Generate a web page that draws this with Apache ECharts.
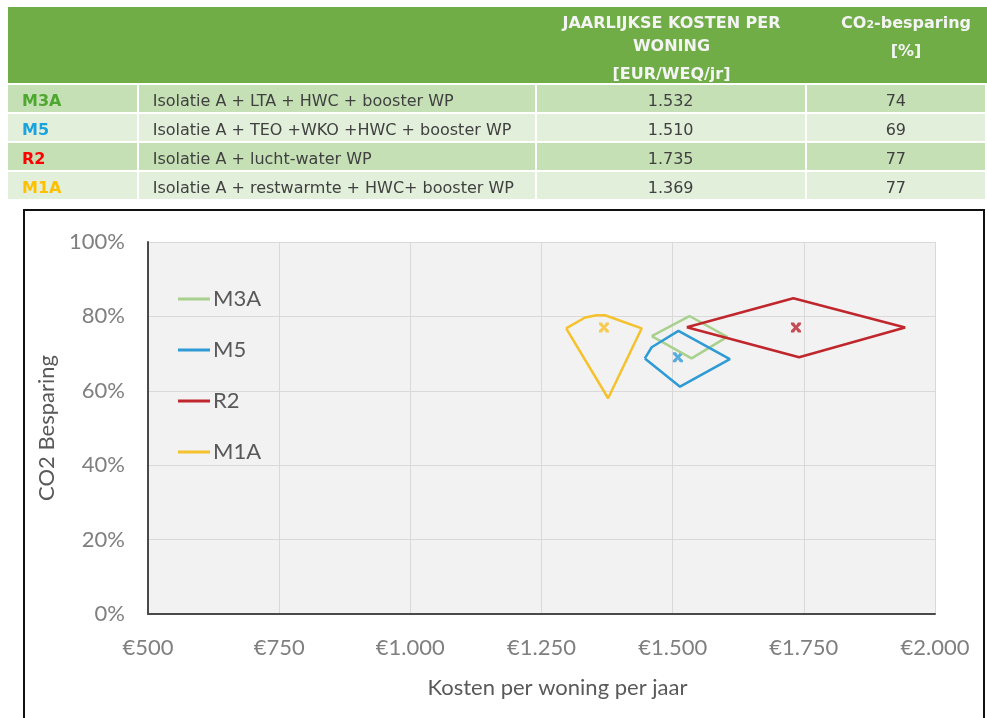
<!DOCTYPE html>
<html>
<head>
<meta charset="utf-8">
<script src="https://cdn.jsdelivr.net/npm/echarts@6/dist/echarts.min.js"></script>
<style>
body{margin:0;width:987px;height:718px;overflow:hidden;background:#fff;font-family:"DejaVu Sans",Verdana,sans-serif;}
#frame{position:absolute;left:23px;top:209px;width:958px;height:530px;border:2px solid #111;}
#chart{position:absolute;left:0;top:0;width:987px;height:718px;}
#head{position:absolute;left:8px;top:7px;width:979px;height:76px;background:#70ad47;color:#f4f4f4;font-weight:bold;font-size:16px;}
#head div{position:absolute;text-align:center;line-height:20px;white-space:nowrap;}
#tbl{position:absolute;left:6px;top:83px;border-spacing:2px;font-size:16px;color:#404040;}
#tbl td{height:27px;padding:0;padding-top:4px;box-sizing:border-box;white-space:nowrap;}
</style>
</head>
<body>
<div id="frame"></div>
<div id="chart"></div>
<div id="head">
	<div style="left:529px;width:269px;top:6px;">JAARLIJKSE KOSTEN PER</div>
	<div style="left:529px;width:269px;top:29px;">WONING</div>
	<div style="left:529px;width:269px;top:57px;">[EUR/WEQ/jr]</div>
	<div style="left:815px;width:166px;top:6px;">CO<span style="font-size:11px">2</span>-besparing</div>
	<div style="left:815px;width:166px;top:34px;">[%]</div>
</div>
<table id="tbl"></table>
<script>
	// tabel boven de grafiek
	var codes=['M3A','M5','R2','M1A'];
	var codeColors=['#4ea72e','#1aa3de','#ff0000','#ffc000'];
	var descriptions=['Isolatie A + LTA + HWC + booster WP','Isolatie A + TEO +WKO +HWC + booster WP','Isolatie A + lucht-water WP','Isolatie A + restwarmte + HWC+ booster WP'];
	var costLabels=['1.532','1.510','1.735','1.369'];
	var savingLabels=['74','69','77','77'];

	// grafiek data (polygonen + middelpunten)
	var names=['M3A','M5','R2','M1A'];
	var lineColors=['#a9d18e','#2e9bd6','#c0272d','#f5c12c'];
	var markerColors=['#a9d18e','#2e9bd6','#b8232b','#f5c12c'];
	var m3aCost=[1460,1532,1604,1536,1460];
	var m3aCo2=[74.7,80.1,74.5,68.7,74.7];
	var m5Cost=[1447,1460,1511,1609,1514,1447];
	var m5Co2=[68.7,71.7,76.1,68.5,61.1,68.7];
	var r2Cost=[1527,1730,1943,1741,1527];
	var r2Co2=[77.1,84.9,77.0,69.0,77.1];
	var m1aCost=[1297,1333,1355,1371,1441,1377,1297];
	var m1aCo2=[76.8,79.7,80.3,80.3,76.8,58.0,76.8];
	var centerCost=[1532,1510,1735,1369];
	var centerCo2=[74,69,77,77];
	// M3A middelpunt valt weg achter de M5 lijn
	var centerShown=[false,true,true,true];

	var polyCost=[m3aCost,m5Cost,r2Cost,m1aCost];
	var polyCo2=[m3aCo2,m5Co2,r2Co2,m1aCo2];

	var widths=[129,396,269,179];
	var html='';
	for(var i=0;i<codes.length;i++)
	{
		var bg=(i%2==0)?'#c5e0b4':'#e2efda';
		html+='<tr style="background:'+bg+'">';
		html+='<td style="width:'+widths[0]+'px;padding-left:14px;font-weight:bold;color:'+codeColors[i]+'">'+codes[i]+'</td>';
		html+='<td style="width:'+widths[1]+'px;padding-left:14px;">'+descriptions[i]+'</td>';
		html+='<td style="width:'+widths[2]+'px;text-align:center;">'+costLabels[i]+'</td>';
		html+='<td style="width:'+widths[3]+'px;text-align:center;">'+savingLabels[i]+'</td>';
		html+='</tr>';
	}
	document.getElementById('tbl').innerHTML=html;

	var crossPath='path://M0,0 L3,0 L5,3 L7,0 L10,0 L10,2 L7,5 L10,8 L10,10 L7,10 L5,7 L3,10 L0,10 L0,8 L3,5 L0,2 Z';

	var series=[];
	for(var s=0;s<names.length;s++)
	{
		var pts=[];
		for(var j=0;j<polyCost[s].length;j++)
		{
			pts.push([polyCost[s][j],polyCo2[s][j]]);
		}
		series.push({
			name:names[s],
			type:'line',
			data:pts,
			showSymbol:false,
			symbol:'none',
			color:lineColors[s],
			lineStyle:{color:lineColors[s],width:2.5},
			animation:false
		});
		if(centerShown[s])
		{
			series.push({
				name:names[s]+'-punt',
				type:'scatter',
				data:[[centerCost[s],centerCo2[s]]],
				symbol:crossPath,
				symbolSize:10,
				itemStyle:{color:markerColors[s]},
				animation:false
			});
		}
	}

	var myChart=echarts.init(document.getElementById('chart'));
	var option={
		textStyle:{fontFamily:'Lato'},
		grid:{
			left:148,
			top:242,
			right:52,
			bottom:104,
			show:true,
			backgroundColor:'#f2f2f2',
			borderWidth:0
		},
		legend:{
			data:names,
			orient:'vertical',
			left:178,
			top:288,
			padding:0,
			icon:'rect',
			itemWidth:32,
			itemHeight:3,
			itemGap:29,
			textStyle:{fontSize:22,color:'#595959',fontFamily:'Lato',lineHeight:22,padding:[0,0,0,-2]}
		},
		xAxis:{
			type:'value',
			min:500,
			max:2000,
			interval:250,
			name:'Kosten per woning per jaar',
			nameLocation:'middle',
			nameGap:63,
			nameTextStyle:{fontSize:22,color:'#595959',fontFamily:'Lato',padding:[0,0,0,32]},
			axisLine:{show:true,lineStyle:{color:'#4a4a4a',width:2}},
			axisTick:{show:false},
			axisLabel:{
				fontSize:22,
				color:'#7f7f7f',
				margin:23,
				formatter:function(v){
					var s=String(v);
					if(v>=1000){ s=s.slice(0,s.length-3)+'.'+s.slice(-3); }
					return '€'+s;
				}
			},
			splitLine:{show:true,lineStyle:{color:'#d9d9d9',width:1}}
		},
		yAxis:{
			type:'value',
			min:0,
			max:100,
			interval:20,
			name:'CO2 Besparing',
			nameLocation:'middle',
			nameGap:76,
			nameTextStyle:{fontSize:22,color:'#595959',fontFamily:'Lato'},
			axisLine:{show:true,lineStyle:{color:'#4a4a4a',width:2}},
			axisTick:{show:false},
			axisLabel:{fontSize:22,color:'#7f7f7f',margin:23,formatter:'{value}%'},
			splitLine:{show:true,lineStyle:{color:'#d9d9d9',width:1}}
		},
		series:series
	};
	if (option && typeof option === "object") {
		myChart.setOption(option, true);
	}
</script>
</body>
</html>
